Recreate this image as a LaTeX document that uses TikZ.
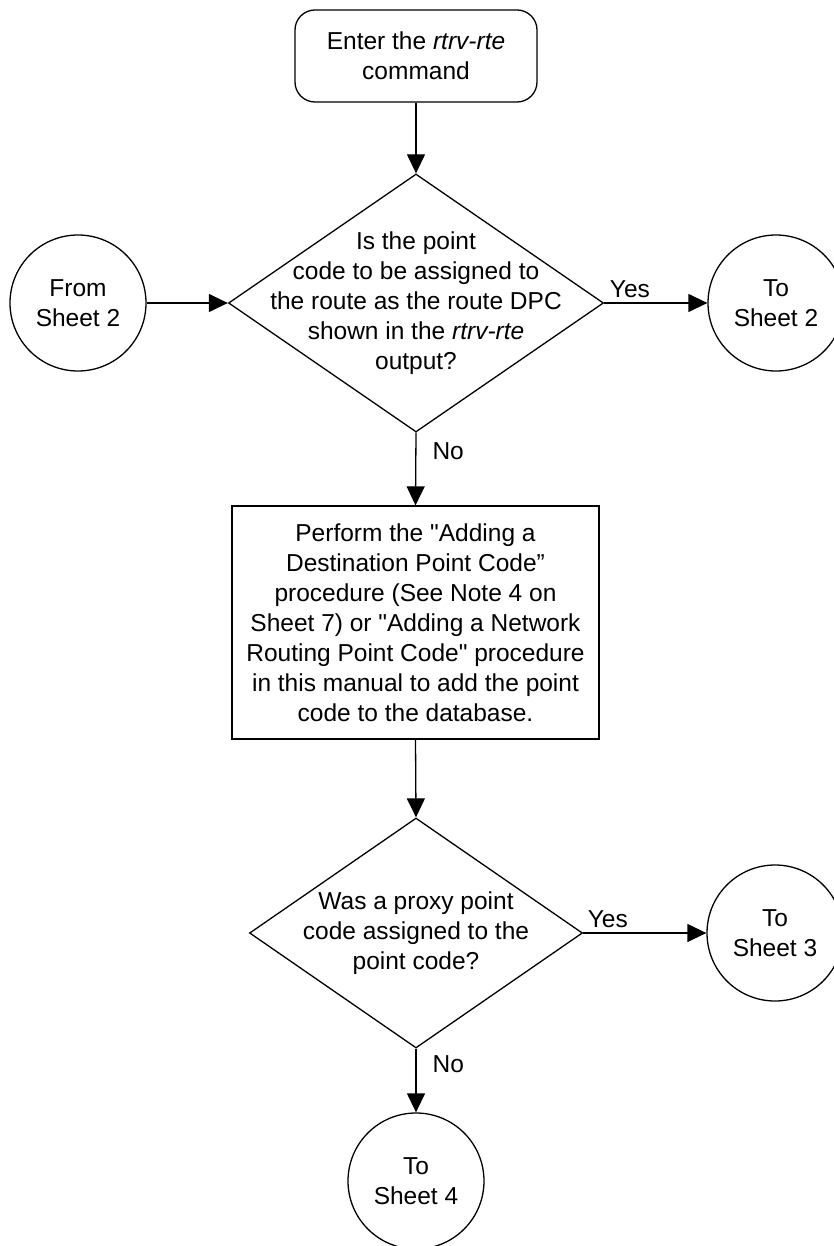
\documentclass[tikz,border=0pt]{standalone}
\usepackage{fontspec}
\setmainfont{Liberation Sans}
\newfontfamily\qfont{Liberation Sans}[Ligatures=NoCommon]
\usetikzlibrary{shapes.geometric,arrows.meta}
\newcommand{\sq}{{\qfont\symbol{34}}}
\begin{document}
\begin{tikzpicture}[x=1pt,y=-1pt,
  every node/.style={font=\fontsize{24.5}{30}\selectfont, text=black},
  line/.style={line width=1.3pt, draw=black},
  arr/.style={line, -{Triangle[length=19pt,width=18pt]}},
  startbox/.style={draw, line width=1.3pt, rounded corners=20pt, minimum width=242pt, minimum height=92pt, inner sep=0pt, align=center},
  procbox/.style={draw, line width=1.3pt, minimum width=367pt, minimum height=233pt, inner sep=0pt, align=center},
  decision/.style={draw, line width=1.3pt, shape=diamond, inner sep=0pt},
  conn/.style={draw, line width=1.3pt, shape=circle, minimum size=136pt, inner sep=0pt, align=center},
  plain/.style={align=center, inner sep=0pt},
  lbl/.style={inner sep=0pt}
]
\clip (0,0) rectangle (834,1246);
\fill[white] (0,0) rectangle (834,1246);

\node[startbox] (start) at (416,56) {Enter the \textit{rtrv-rte}\\command};

\node[decision, minimum width=375pt, minimum height=258pt] (d1) at (416,303) {};
\node[plain] (d1t) at (416,303) {Is the point\\code to be assigned to\\the route as the route DPC\\shown in the \textit{rtrv-rte}\\output?};

\node[conn] (from2) at (78,303) {From\\Sheet 2};
\node[conn] (to2) at (776,303) {To\\Sheet 2};

\node[procbox] (proc) at (415.5,622.5) {Perform the \sq Adding a\\Destination Point Code”\\procedure (See Note 4 on\\Sheet 7) or \sq Adding a Network\\Routing Point Code\sq{} procedure\\in this manual to add the point\\code to the database.};

\node[decision, minimum width=333pt, minimum height=230pt] (d2) at (416,933) {};
\node[plain] (d2t) at (416,933) {Was a proxy point\\code assigned to the\\point code?};

\node[conn] (to3) at (775,933) {To\\Sheet 3};
\node[conn] (to4) at (416,1181) {To\\Sheet 4};

\draw[arr] (start.south) -- (d1.north);
\draw[arr] (from2.east) -- (d1.west);
\draw[arr] (d1.east) -- node[lbl, pos=0.25, above=5pt] (y1) {Yes} (to2.west);
\draw[arr] (d1.south) -- node[lbl, pos=0.25, right=16pt] (n1) {No} (proc.north);
\draw[arr] (proc.south) -- (d2.north);
\draw[arr] (d2.east) -- node[lbl, pos=0.2, above=5pt] (y2) {Yes} (to3.west);
\draw[arr] (d2.south) -- node[lbl, pos=0.25, right=16pt] (n2) {No} (to4.north);
\end{tikzpicture}
\end{document}
